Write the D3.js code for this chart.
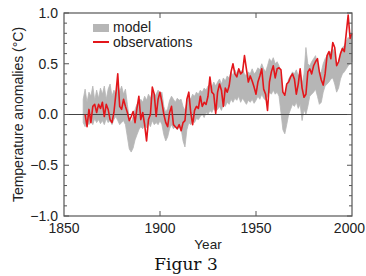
<!DOCTYPE html>
<html>
<head>
<meta charset="utf-8">
<script src="https://cdn.jsdelivr.net/npm/d3@7"></script>
<style>
  html, body { margin: 0; padding: 0; background: #fff; }
  svg { display: block; font-family: "Liberation Sans", Arial, sans-serif; }
</style>
</head>
<body>
<svg id="chart" width="366" height="276"></svg>
<script>
/* Temperature anomalies: model band (grey) vs observations (red), 1860-2000. */

const obsStart = 1861;
const observations = [
  0.00, -0.12, 0.05, -0.08, 0.08, 0.10, 0.02, 0.10, 0.06,             // 1861-1869
  0.12, -0.02, 0.10, 0.05, -0.05, -0.08, 0.02, 0.20, 0.40, 0.08,      // 1870s
  0.05, 0.15, 0.08, 0.02, -0.06, -0.02, 0.03, -0.08, 0.06, 0.18,      // 1880s
  -0.05, 0.02, -0.10, -0.26, -0.05, 0.00, 0.27, 0.20, -0.02, 0.15,    // 1890s
  0.22, 0.12, 0.00, -0.08, -0.12, 0.02, 0.08, -0.10, -0.12, -0.14,    // 1900s
  -0.10, -0.16, -0.08, -0.06, 0.15, 0.22, 0.02, -0.10, 0.04, 0.08,    // 1910s
  0.06, 0.18, 0.08, 0.12, 0.10, 0.18, 0.37, 0.22, 0.20, 0.01,         // 1920s
  0.22, 0.30, 0.24, 0.08, 0.26, 0.22, 0.28, 0.42, 0.50, 0.40,         // 1930s
  0.37, 0.45, 0.40, 0.42, 0.58, 0.45, 0.32, 0.38, 0.33, 0.27,         // 1940s
  0.20, 0.32, 0.38, 0.45, 0.25, 0.20, 0.04, 0.32, 0.42, 0.48,         // 1950s
  0.36, 0.45, 0.46, 0.44, 0.22, 0.19, 0.30, 0.32, 0.37, 0.40,         // 1960s
  0.35, 0.20, 0.30, 0.45, 0.26, 0.17, 0.20, 0.42, 0.45, 0.40,         // 1970s
  0.48, 0.52, 0.55, 0.42, 0.34, 0.29, 0.40, 0.58, 0.62, 0.55,         // 1980s
  0.71, 0.66, 0.48, 0.52, 0.60, 0.65, 0.62, 0.80, 0.98, 0.75,         // 1990s
  0.80                                                                // 2000
];

const modelStart = 1860;
const modelLow = [
  -0.08, -0.12, -0.05, -0.10, -0.06, -0.10, -0.04, -0.08, -0.05, -0.09,
  -0.06, -0.10, -0.04, -0.08, -0.06, -0.10, -0.05, -0.02, -0.06, -0.10,
  -0.08, -0.06, -0.10, -0.22, -0.34, -0.37, -0.33, -0.25, -0.20, -0.15,
  -0.12, -0.14, -0.10, -0.13, -0.08, -0.12, -0.06, -0.10, -0.08, -0.10,
  -0.06, -0.10, -0.20, -0.26, -0.22, -0.14, -0.10, -0.14, -0.12, -0.15,
  -0.12, -0.14, -0.26, -0.32, -0.15, -0.08, -0.10, -0.06, -0.08, -0.04,
  -0.05, -0.02, 0.00, -0.03, 0.02, 0.00, 0.04, 0.02, 0.06, 0.03,
  0.05, 0.08, 0.04, 0.10, 0.08, 0.12, 0.10, 0.15, 0.12, 0.16,
  0.14, 0.18, 0.12, 0.16, 0.13, 0.10, 0.14, 0.12, 0.15, 0.11,
  0.14, 0.18, 0.15, 0.20, 0.16, 0.14, 0.18, 0.22, 0.20, 0.24,
  0.20, 0.22, 0.18, 0.02, -0.15, -0.19, -0.10, 0.00, 0.05, 0.10,
  0.08, 0.12, 0.06, 0.10, -0.06, 0.05, 0.00, 0.08, 0.18, 0.20,
  0.22, 0.25, 0.18, 0.10, 0.12, 0.22, 0.28, 0.30, 0.32, 0.35,
  0.36, 0.30, 0.22, 0.26, 0.35, 0.40, 0.42, 0.45, 0.48, 0.50,
  0.52
];
const modelHigh = [
  0.15, 0.25, 0.12, 0.22, 0.18, 0.28, 0.14, 0.24, 0.16, 0.26,
  0.20, 0.28, 0.15, 0.25, 0.30, 0.18, 0.24, 0.20, 0.30, 0.22,
  0.28, 0.20, 0.25, 0.10, -0.04, -0.08, -0.02, 0.05, 0.10, 0.12,
  0.15, 0.12, 0.18, 0.14, 0.20, 0.16, 0.22, 0.18, 0.20, 0.24,
  0.20, 0.22, 0.08, 0.02, 0.06, 0.14, 0.18, 0.15, 0.12, 0.16,
  0.14, 0.15, 0.08, 0.04, 0.12, 0.18, 0.15, 0.20, 0.18, 0.22,
  0.20, 0.24, 0.22, 0.26, 0.24, 0.28, 0.30, 0.27, 0.32, 0.28,
  0.32, 0.35, 0.30, 0.36, 0.33, 0.38, 0.36, 0.42, 0.38, 0.44,
  0.40, 0.45, 0.42, 0.44, 0.40, 0.38, 0.42, 0.40, 0.45, 0.40,
  0.42, 0.46, 0.44, 0.50, 0.45, 0.42, 0.48, 0.55, 0.52, 0.56,
  0.50, 0.52, 0.48, 0.36, 0.20, 0.18, 0.28, 0.35, 0.38, 0.42,
  0.40, 0.44, 0.38, 0.42, 0.30, 0.40, 0.66, 0.50, 0.48, 0.52,
  0.55, 0.58, 0.50, 0.40, 0.42, 0.50, 0.55, 0.58, 0.60, 0.62,
  0.65, 0.60, 0.48, 0.52, 0.60, 0.66, 0.68, 0.72, 0.76, 0.74,
  0.78
];

const xTicks = [1850, 1900, 1950, 2000];
const yTicks = [-1.0, -0.5, 0.0, 0.5, 1.0];
const yMinor = d3.range(-10, 11).map((i) => i / 10);

const W = 366, H = 276;
const M = { left: 64, right: 14, top: 13, bottom: 60 };

const svg = d3.select("#chart");
const x = d3.scaleLinear().domain([1850, 2000]).range([M.left, W - M.right]);
const y = d3.scaleLinear().domain([-1, 1]).range([H - M.bottom, M.top]);

const model = modelLow.map((lo, i) => ({ yr: modelStart + i, lo, hi: modelHigh[i] }));
const obs = observations.map((v, i) => ({ yr: obsStart + i, v }));

// model band
svg.append("path").datum(model)
  .attr("fill", "#b6b6b6")
  .attr("stroke", "#b6b6b6").attr("stroke-width", 0.8)
  .attr("d", d3.area().x((d) => x(d.yr)).y0((d) => y(d.lo)).y1((d) => y(d.hi)));

// zero line
svg.append("line")
  .attr("x1", x(1850)).attr("x2", x(2000)).attr("y1", y(0)).attr("y2", y(0))
  .attr("stroke", "#444").attr("stroke-width", 1.2);

// observations
svg.append("path").datum(obs)
  .attr("fill", "none").attr("stroke", "#e3161b").attr("stroke-width", 1.6)
  .attr("stroke-linejoin", "round")
  .attr("d", d3.line().x((d) => x(d.yr)).y((d) => y(d.v)));

// frame
svg.append("rect")
  .attr("x", x(1850)).attr("y", y(1)).attr("width", x(2000) - x(1850)).attr("height", y(-1) - y(1))
  .attr("fill", "none").attr("stroke", "#555").attr("stroke-width", 1.2);

// inward ticks
const ticks = svg.append("g").attr("stroke", "#555").attr("stroke-width", 1);
yMinor.forEach((v) => {
  const len = Math.abs(v * 2 - Math.round(v * 2)) < 1e-6 ? 5 : 3;
  ticks.append("line").attr("x1", x(1850)).attr("x2", x(1850) + len).attr("y1", y(v)).attr("y2", y(v));
  ticks.append("line").attr("x1", x(2000)).attr("x2", x(2000) - len).attr("y1", y(v)).attr("y2", y(v));
});
xTicks.slice(1, -1).forEach((t) => {
  ticks.append("line").attr("x1", x(t)).attr("x2", x(t)).attr("y1", y(-1)).attr("y2", y(-1) - 5);
  ticks.append("line").attr("x1", x(t)).attr("x2", x(t)).attr("y1", y(1)).attr("y2", y(1) + 5);
});

// axis labels
const fmtY = (v) => d3.format(".1f")(v).replace("-", "\u2212");
svg.append("g").selectAll("text").data(yTicks).join("text")
  .attr("x", M.left - 6).attr("y", (d) => y(d)).attr("dy", "0.35em")
  .attr("text-anchor", "end").attr("font-size", 14).attr("fill", "#222")
  .text(fmtY);
svg.append("g").selectAll("text").data(xTicks).join("text")
  .attr("x", (d) => d === 2000 ? W - 1 : x(d)).attr("y", y(-1) + 17)
  .attr("text-anchor", (d) => d === 2000 ? "end" : "middle")
  .attr("font-size", 14).attr("fill", "#222")
  .text((d) => d);

svg.append("text")
  .attr("transform", `translate(23,${(y(1) + y(-1)) / 2}) rotate(-90)`)
  .attr("text-anchor", "middle").attr("font-size", 14).attr("fill", "#222")
  .text("Temperature anomalies (\u00b0C)");
svg.append("text")
  .attr("x", (x(1850) + x(2000)) / 2).attr("y", 249)
  .attr("text-anchor", "middle").attr("font-size", 13.5).attr("fill", "#222")
  .text("Year");
svg.append("text")
  .attr("x", 186).attr("y", 270)
  .attr("text-anchor", "middle").attr("font-size", 17)
  .attr("font-family", "'DejaVu Serif', 'Liberation Serif', serif").attr("fill", "#111")
  .text("Figur 3");

// legend
const lg = svg.append("g").attr("transform", "translate(93,0)");
lg.append("rect").attr("x", 0).attr("y", 24).attr("width", 16).attr("height", 8).attr("fill", "#b6b6b6");
lg.append("text").attr("x", 20).attr("y", 32).attr("font-size", 14).attr("fill", "#222").text("model");
lg.append("line").attr("x1", 0).attr("x2", 16).attr("y1", 42).attr("y2", 42)
  .attr("stroke", "#e3161b").attr("stroke-width", 2);
lg.append("text").attr("x", 20).attr("y", 47).attr("font-size", 14).attr("fill", "#222").text("observations");
</script>
</body>
</html>
